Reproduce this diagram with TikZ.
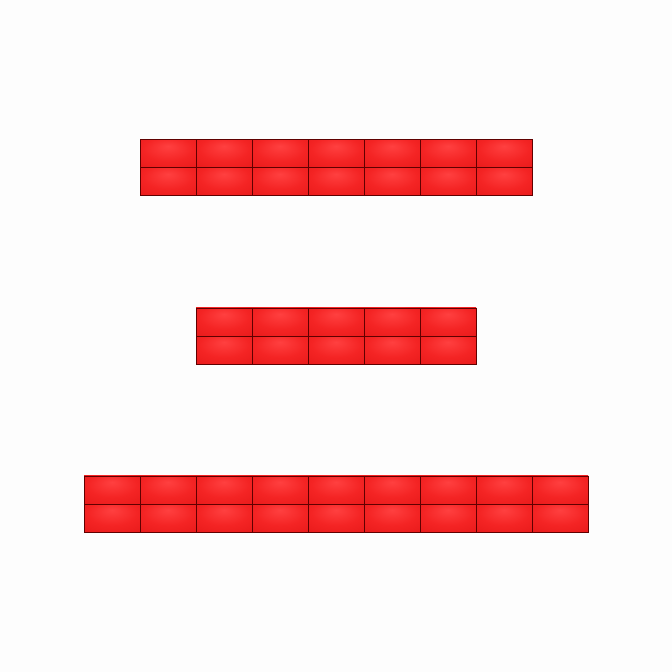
\documentclass[tikz,border=0pt]{standalone}
\usepackage{tikz}

\definecolor{brickhi}{HTML}{FF4040}
\definecolor{brickmid}{HTML}{F42424}
\definecolor{brickdark}{HTML}{DC1010}
\definecolor{brickedge}{HTML}{600000}
\definecolor{paper}{HTML}{FDFDFD}

% radial shading, light spot near the top middle
\pgfdeclareradialshading{brickshade}{\pgfpoint{0bp}{14bp}}{%
    color(0bp)=(brickhi); color(22bp)=(brickmid); color(60bp)=(brickdark)}

\tikzset{
    brick/.style={shading=brickshade, draw=brickedge, line width=1pt}
}

\begin{document}
\begin{tikzpicture}
    % 1. Nền và khung
    \fill[paper] (0,0) rectangle (24,24);
    \useasboundingbox (0,0) rectangle (24,24);

    % 2. Hàng trên: 7 viên, 2 lớp
    \foreach \i in {0,...,6}
        \foreach \j in {0,1}
            \draw[brick] ({5+2*\i}, {17+\j}) rectangle ++(2,1);

    % 3. Hàng giữa: 5 viên, 2 lớp
    \foreach \i in {0,...,4}
        \foreach \j in {0,1}
            \draw[brick] ({7+2*\i}, {11+\j}) rectangle ++(2,1);

    % 4. Hàng dưới: 9 viên, 2 lớp
    \foreach \i in {0,...,8}
        \foreach \j in {0,1}
            \draw[brick] ({3+2*\i}, {5+\j}) rectangle ++(2,1);

\end{tikzpicture}
\end{document}
